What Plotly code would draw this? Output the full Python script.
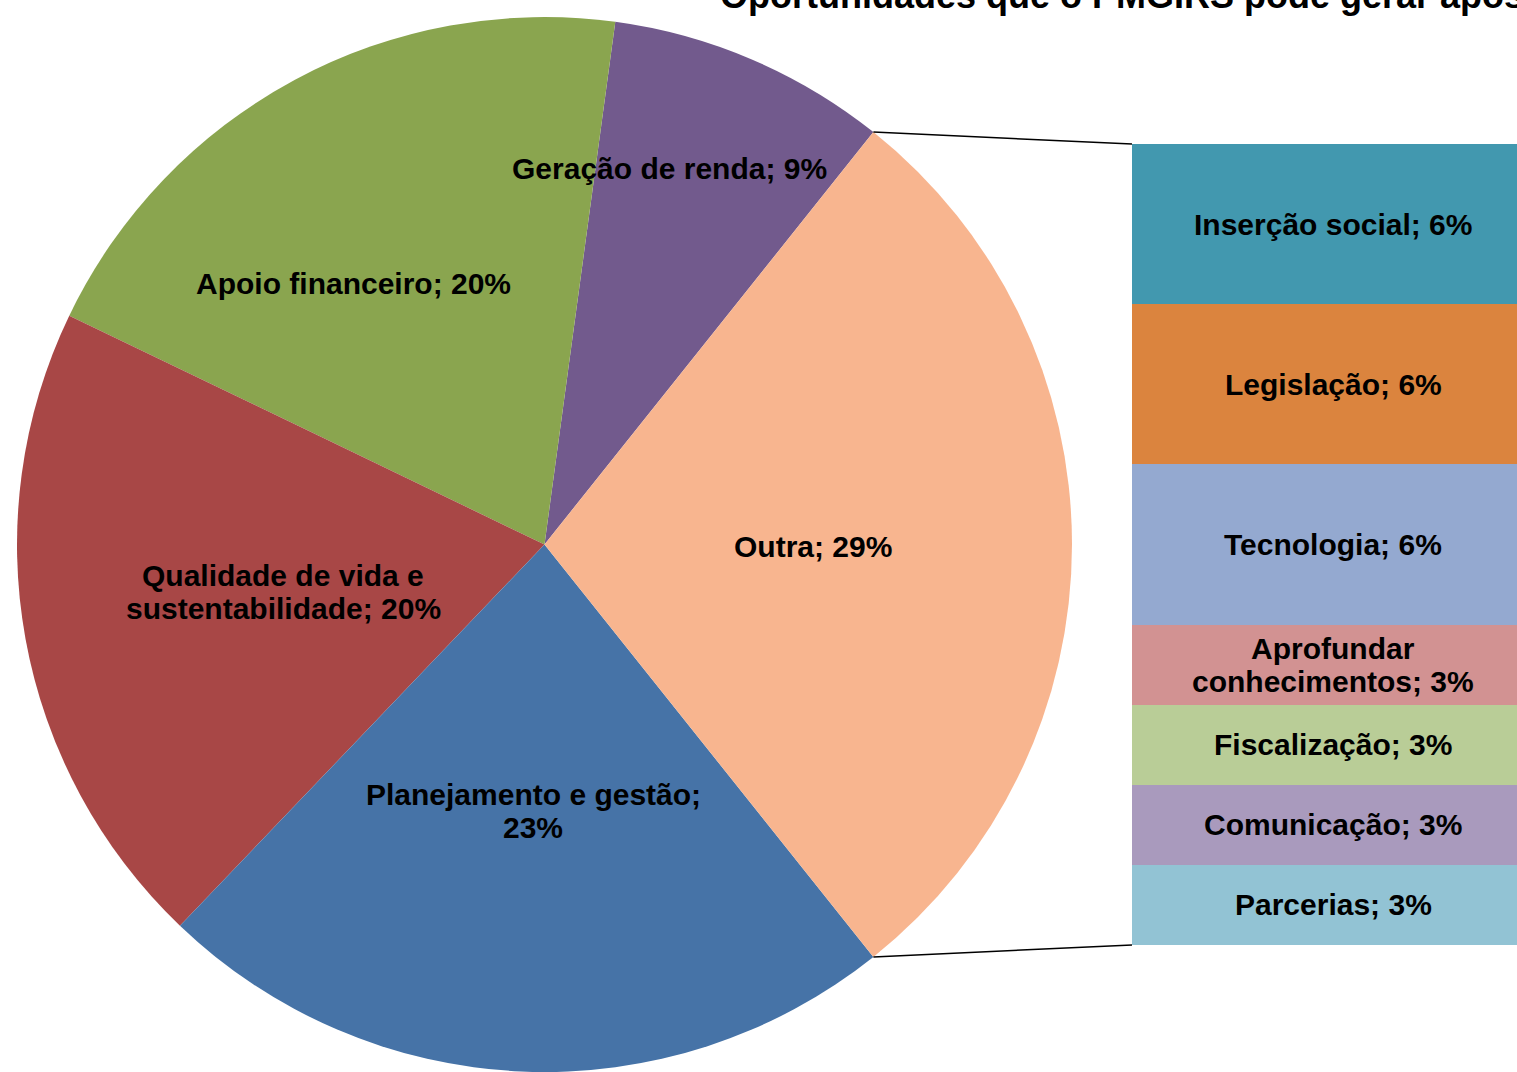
import math
import plotly.graph_objects as go

# ---------------- data ----------------
pie_labels = ["Geração de renda", "Apoio financeiro",
              "Qualidade de vida e sustentabilidade", "Planejamento e gestão", "Outra"]
pie_counts = [3, 7, 7, 8, 10]          # responses (35 in total)
pie_colors = ["#725A8D", "#8AA54F", "#A84746", "#4673A7", "#F8B58F"]

# breakdown of "Outra", top to bottom
bar_labels = ["Inserção social", "Legislação", "Tecnologia", "Aprofundar conhecimentos",
              "Fiscalização", "Comunicação", "Parcerias"]
bar_counts = [2, 2, 2, 1, 1, 1, 1]
bar_colors = ["#4298AF", "#DB843E", "#94A9D0", "#D29292", "#B9CD97", "#A99ABD", "#92C3D4"]

title_text = "Oportunidades que o PMGIRS pode gerar após a implementação"

# ---------------- layout constants (pixels) ----------------
W, H = 1517, 1072
CX, CY, R = 544.5, 544.5, 527.5
BAR_X0, BAR_X1 = 1132, 1534          # bar runs past the right edge
BAR_Y0, BAR_Y1 = 144, 945            # top / bottom in pixels
FONT = "Liberation Sans, Arial, sans-serif"
FS = 30
LINE_GAP = 33

# label anchor positions (pixels) for the pie slices
pie_label_pos = {
    "Geração de renda": (669, 168),
    "Apoio financeiro": (353, 283),
    "Qualidade de vida e sustentabilidade": (283, 592),
    "Planejamento e gestão": (533, 811),
    "Outra": (813, 546),
}
pie_label_lines = {
    "Qualidade de vida e sustentabilidade": ["Qualidade de vida e", "sustentabilidade; {p}"],
    "Planejamento e gestão": ["Planejamento e gestão;", "{p}"],
}
bar_label_lines = {
    "Aprofundar conhecimentos": ["Aprofundar", "conhecimentos; {p}"],
}


def px(x):
    return x / W


def py(y):
    return 1 - y / H


total = sum(pie_counts)
outra_share = pie_counts[-1] / total
# Outra centred at 3 o'clock; first slice (Geração) ends where Outra begins
rotation = 90 - outra_share * 360 / 2 - pie_counts[0] / total * 360

fig = go.Figure()

fig.add_trace(go.Pie(
    labels=pie_labels, values=pie_counts, sort=False, direction="counterclockwise",
    rotation=rotation, marker=dict(colors=pie_colors, line=dict(width=0)),
    textinfo="none", showlegend=False,
    domain=dict(x=[px(CX - R), px(CX + R)], y=[py(CY + R), py(CY - R)]),
    hovertemplate="%{label}: %{percent}<extra></extra>",
))

# stacked bar (bottom to top)
for lab, cnt, col in reversed(list(zip(bar_labels, bar_counts, bar_colors))):
    fig.add_trace(go.Bar(
        x=[0], y=[cnt], width=1, marker=dict(color=col, line=dict(width=0)),
        showlegend=False, xaxis="x", yaxis="y",
        hovertemplate=lab + ": " + f"{round(cnt / total * 100)}%<extra></extra>",
    ))

annotations = []


def add_lines(lines, x, y, xref, yref):
    n = len(lines)
    for i, ln in enumerate(lines):
        shift = ((n - 1) / 2 - i) * LINE_GAP
        annotations.append(dict(
            text="<b>" + ln + "</b>", x=x, y=y, xref=xref, yref=yref,
            xanchor="center", yanchor="middle", yshift=shift, showarrow=False,
            font=dict(family=FONT, size=FS, color="black")))


for lab, cnt in zip(pie_labels, pie_counts):
    p = f"{round(cnt / total * 100)}%"
    lines = pie_label_lines.get(lab, [lab + "; {p}"])
    lines = [l.format(p=p) for l in lines]
    x, y = pie_label_pos[lab]
    add_lines(lines, px(x), py(y), "paper", "paper")

cum = sum(bar_counts)
for lab, cnt in zip(bar_labels, bar_counts):
    p = f"{round(cnt / total * 100)}%"
    mid = cum - cnt / 2
    cum -= cnt
    lines = bar_label_lines.get(lab, [lab + "; {p}"])
    lines = [l.format(p=p) for l in lines]
    add_lines(lines, 0, mid, "x", "y")

# title, clipped at the very top as in the original
annotations.append(dict(
    text="<b>" + title_text + "</b>", x=px(718), y=1 + 4 / H, xref="paper", yref="paper",
    xanchor="left", yanchor="middle", showarrow=False,
    font=dict(family=FONT, size=36, color="black")))

# connector lines from the pie edge to the bar corners
shapes = []
a_top = math.radians(90 - outra_share * 360 / 2)
a_bot = math.radians(90 + outra_share * 360 / 2)
for ang, by in ((a_top, BAR_Y0), (a_bot, BAR_Y1)):
    ex = CX + R * math.sin(ang)
    ey = CY - R * math.cos(ang)
    shapes.append(dict(type="line", xref="paper", yref="paper",
                       x0=px(ex), y0=py(ey), x1=px(BAR_X0), y1=py(by),
                       line=dict(color="black", width=1.5)))

bar_span = BAR_X1 - BAR_X0
fig.update_layout(
    width=W, height=H, margin=dict(l=0, r=0, t=0, b=0),
    paper_bgcolor="white", plot_bgcolor="rgba(0,0,0,0)",
    barmode="stack", bargap=0,
    xaxis=dict(domain=[px(BAR_X0), 1], range=[-0.5, -0.5 + (W - BAR_X0) / bar_span],
               visible=False, fixedrange=True),
    yaxis=dict(domain=[py(BAR_Y1), py(BAR_Y0)], range=[0, sum(bar_counts)],
               visible=False, fixedrange=True),
    annotations=annotations, shapes=shapes,
)

fig.write_html("out.html")
